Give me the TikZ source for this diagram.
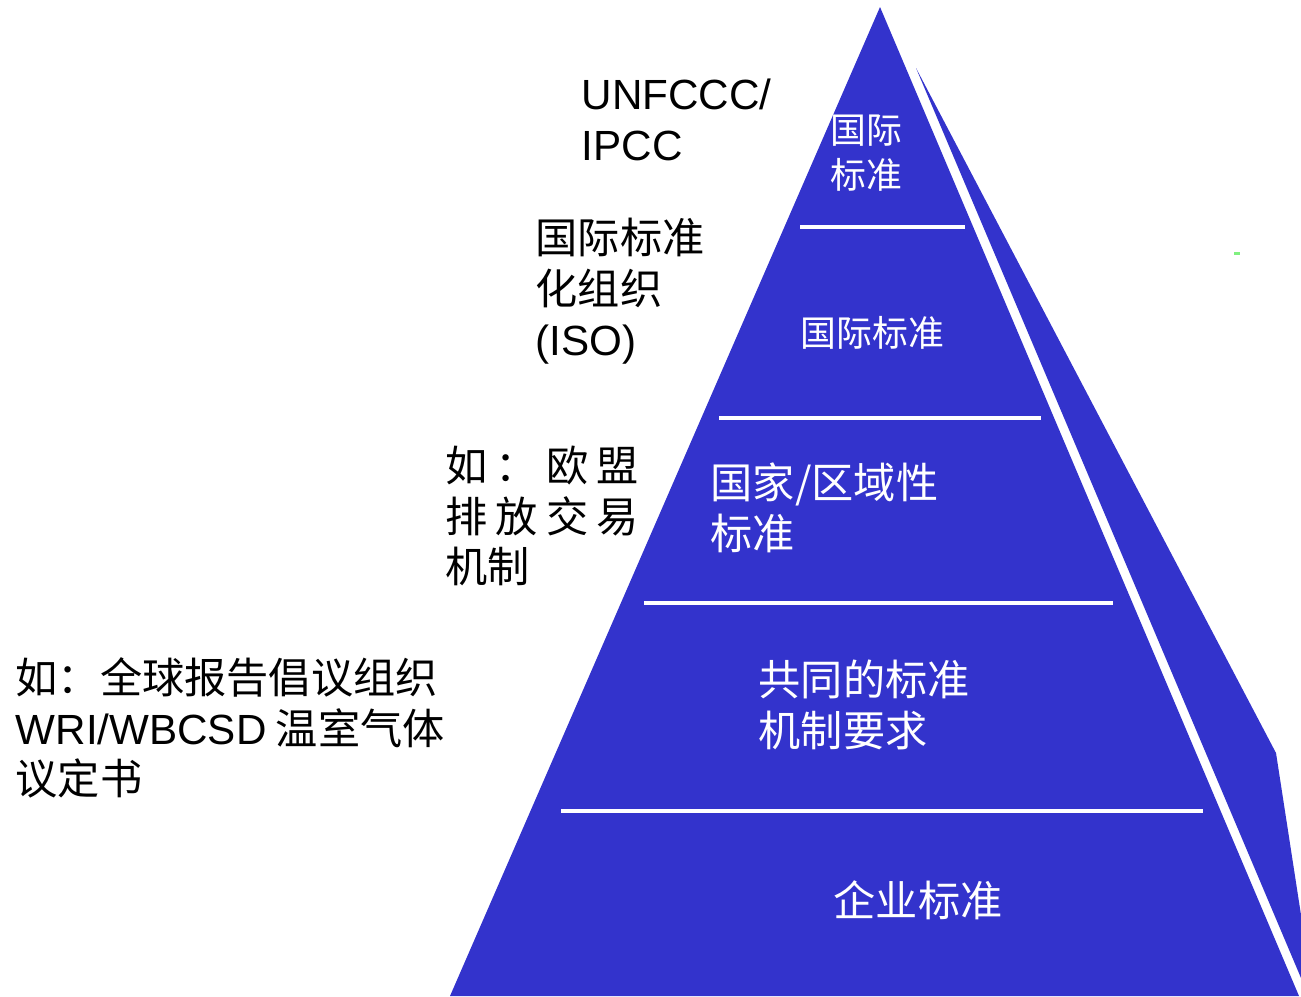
\documentclass[tikz,border=0pt]{standalone}
\usepackage{fontspec}
\setmainfont{Liberation Sans}
\newfontfamily\latin{Liberation Sans}
\newfontfamily\cjk{Noto Sans CJK SC}
\usepackage{xcolor}
\usetikzlibrary{positioning}
\definecolor{pyramid blue}{HTML}{3333CC}
\definecolor{speck green}{HTML}{80F080}
\newcommand{\gap}{\hspace{2.3pt}}
\tikzset{
	font = \fontsize{12}{14.4}\selectfont\cjk,
	face/.style={
		fill=pyramid blue,
		draw=none
	},
	divider/.style={
		draw=white,
		line width=1.4pt
	},
	level text/.style={
		text=white,
		align=left,
		anchor=west,
		inner sep=0pt
	},
	side text/.style={
		text=black,
		align=left,
		anchor=west,
		inner sep=0pt
	}
}

\begin{document}
\begin{tikzpicture}[x=.01cm, y=-.01cm]
	\useasboundingbox (0,0) rectangle (1301,996);
	% pyramid
	\coordinate (apex) at (880,7);
	\coordinate (base left) at (450,996);
	\coordinate (base right) at (1299,996);
	\coordinate (back tip) at (916,68);
	\fill[face] (back tip) -- (1276,753) -- (1301,915) -- (1301,978) -- cycle;
	\fill[face] (apex) -- (base right) -- (base left) -- cycle;
	\draw[divider] (800,227) -- (965,227);
	\draw[divider] (719,418) -- (1041,418);
	\draw[divider] (644,603) -- (1113,603);
	\draw[divider] (561,811) -- (1203,811);
	\fill[speck green] (1234,252) rectangle (1240,255);

	% levels
	\node[level text, font=\fontsize{10.2}{13}\selectfont\cjk] (top) at (830,153) {国际\\标准};
	\node[level text, font=\fontsize{10.2}{13}\selectfont\cjk] (iso level) at (800,333) {国际标准};
	\node[level text] (national) at (710,508) {国家/区域性\\标准};
	\node[level text] (common) at (758,705) {共同的标准\\机制要求};
	\node[level text] (company) at (833,900) {企业标准};

	% examples
	\node[side text] (unfccc) at (581,120) {{\latin UNFCCC/}\\{\latin IPCC}};
	\node[side text] (iso) at (535,291) {国际标准\\化组织\\{\latin (ISO)}};
	\node[side text] (eu) at (445,516) {如\gap：\gap 欧\gap 盟\\排\gap 放\gap 交\gap 易\\机制};
	\node[side text] (wri) at (15,728) {如：全球报告倡议组织\\{\latin WRI/WBCSD} 温室气体\\议定书};
\end{tikzpicture}
\end{document}
